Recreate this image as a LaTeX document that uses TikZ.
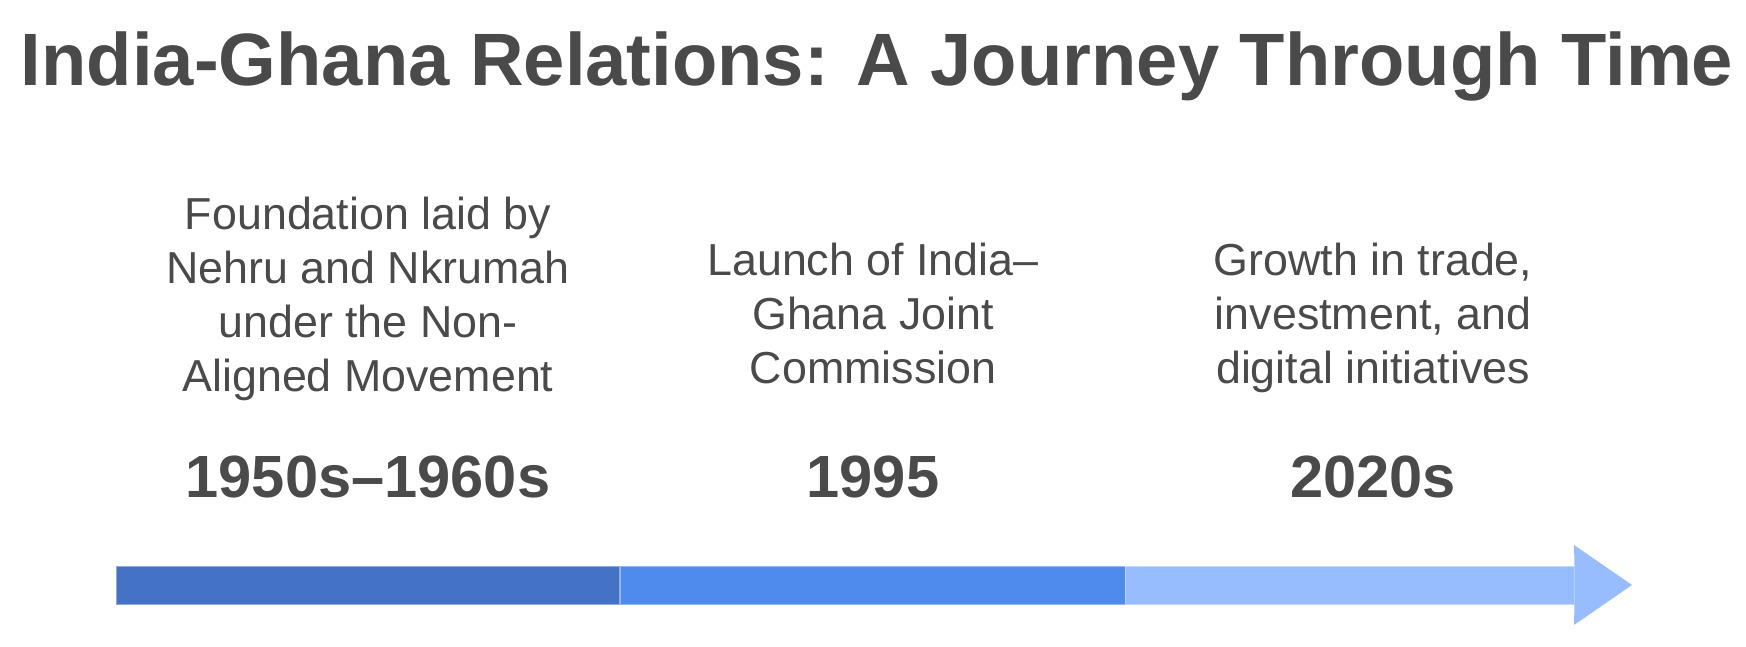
\documentclass[tikz,border=0pt]{standalone}
\usepackage{fontspec}
\setmainfont{Liberation Sans}
\usepackage{xcolor}
\usetikzlibrary{positioning}
\definecolor{inkgray}{HTML}{4A4A4A}
\definecolor{barone}{HTML}{4472C4}
\definecolor{bartwo}{HTML}{4F8BEC}
\definecolor{barthree}{HTML}{97BDFE}

\begin{document}
\begin{tikzpicture}[x=0.5pt,y=-0.5pt,
  segbox/.style={rectangle,inner sep=0pt,minimum height=19pt,line width=0.5pt},
  yearlab/.style={anchor=base,inner sep=0pt,text=inkgray,font=\fontsize{29.8}{35}\selectfont\bfseries},
  desclab/.style={anchor=north,inner sep=0pt,align=center,text=inkgray,font=\fontsize{22.4}{27}\selectfont}]
  \useasboundingbox (0,0) rectangle (1746,647);
  \node[anchor=base,inner sep=0pt,text=inkgray,font=\fontsize{37.1}{45}\selectfont\bfseries]
    (title) at (877,86) {India-Ghana Relations: A Journey Through Time};
  % timeline bar
  \foreach \n/\x/\w/\c in {segA/368/503/barone, segB/872.5/505/bartwo, segC/1349.5/449/barthree}
  { \node[segbox,minimum width=\w*0.5pt,fill=\c,draw=\c!60!white] (\n) at (\x,585) {}; }
  \fill[barthree] (segC.north east) -- (1574,545) -- (1632,585) -- (1574,625) -- (segC.south east) -- cycle;
  % labels
  \foreach \n/\x/\t/\yr/\txt in {
     one/368/197/{1950s–1960s}/{Foundation laid by\\Nehru and Nkrumah\\under the Non-\\Aligned Movement},
     two/873/243/{1995}/{Launch of India–\\Ghana Joint\\Commission},
     three/1373/243/{2020s}/{Growth in trade,\\investment, and\\digital initiatives}}
  { \node[desclab] (desc\n) at (\x,\t) {\txt};
    \node[yearlab] (year\n) at (\x,497) {\yr}; }
\end{tikzpicture}
\end{document}
